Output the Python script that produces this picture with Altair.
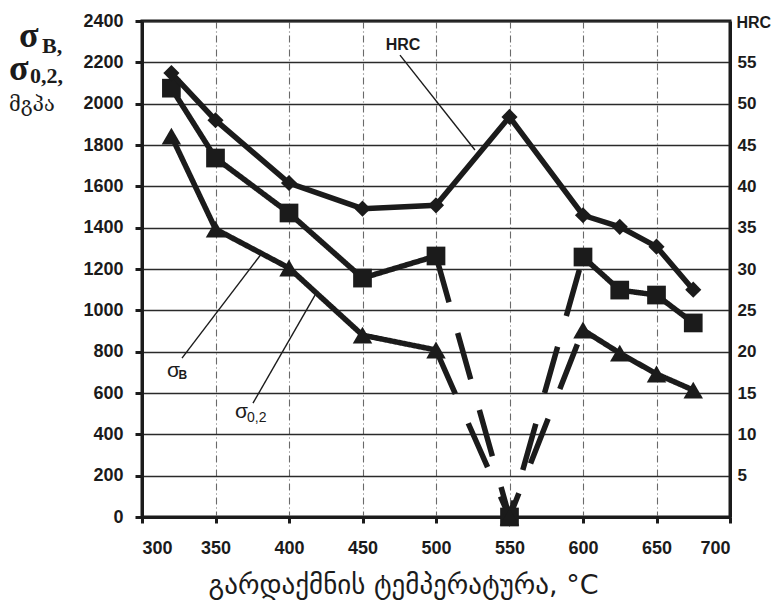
import altair as alt
import pandas as pd

# ---- data ----
temps = [320, 350, 400, 450, 500, 550, 600, 625, 650, 675]
hrc = [53.7, 48.0, 40.4, 37.3, 37.7, 48.4, 36.5, 35.1, 32.7, 27.5]
sigma_b = [2075, 1737, 1471, 1156, 1263, 0, 1258, 1098, 1074, 939]
sigma_02 = [1843, 1393, 1205, 880, 808, 0, 905, 793, 692, 614]

x_ticks = [300, 350, 400, 450, 500, 550, 600, 650, 700]
y_ticks = [0, 200, 400, 600, 800, 1000, 1200, 1400, 1600, 1800, 2000, 2200, 2400]
hrc_ticks = [5, 10, 15, 20, 25, 30, 35, 40, 45, 50, 55]

# annotation anchors (data coordinates)
label_names = ["HRC", "σB", "σ0,2"]
leader_t = [475.5, 327.2, 375.5]
leader_v = [2235, 769, 551]
leader_t2 = [526.5, 381.6, 417.7]
leader_v2 = [1776, 1277, 1074]

INK = "#1b1b1b"
SANS = "Liberation Sans"


def seg_rows(name, vals):
    rows = []
    for t, v in zip(temps, vals):
        if t <= 500:
            rows.append(dict(t=t, v=v, seg=name + "1", style="solid"))
        if 500 <= t <= 600:
            rows.append(dict(t=t, v=v, seg=name + "2", style="dashed"))
        if t >= 600:
            rows.append(dict(t=t, v=v, seg=name + "3", style="solid"))
    return rows


sig_lines = pd.DataFrame(seg_rows("b", sigma_b) + seg_rows("p", sigma_02))
pts_b = pd.DataFrame({"t": temps, "v": sigma_b})
pts_p = pd.DataFrame({"t": temps, "v": sigma_02})
hrc_df = pd.DataFrame({"t": temps, "hrc": hrc})
leaders = pd.DataFrame({"name": label_names, "t": leader_t, "v": leader_v,
                        "t2": leader_t2, "v2": leader_v2})

x_scale = alt.Scale(domain=[300, 700], nice=False, zero=False)
x_axis = alt.Axis(values=x_ticks, format="d", grid=True, gridDash=[7, 3, 1, 3], gridColor="#6a6a6a",
                  gridWidth=1.1, domainColor=INK, domainWidth=3, tickColor=INK, tickWidth=3,
                  tickSize=6, labelFont=SANS, labelFontSize=18, labelFontWeight="bold",
                  labelColor=INK, labelPadding=16,
                  title="გარდაქმნის ტემპერატურა, °C", titleFont="DejaVu Sans",
                  titleFontSize=27, titleFontWeight="normal", titleColor=INK,
                  titleX=261, titleY=76, titleBaseline="alphabetic")


def X(field):
    return alt.X(field, type="quantitative", scale=x_scale, axis=x_axis)


y_scale = alt.Scale(domain=[0, 2400], nice=False)
y_axis = alt.Axis(values=y_ticks, format="d", grid=True, gridColor="#2a2a2a", gridWidth=1.3,
                  domainColor=INK, domainWidth=3, tickColor=INK, tickWidth=3, tickSize=7,
                  labelFont=SANS, labelFontSize=18, labelFontWeight="bold", labelColor=INK,
                  labelPadding=12, title="")


def Y(field):
    return alt.Y(field, type="quantitative", scale=y_scale, axis=y_axis)


dash_scale = alt.Scale(domain=["solid", "dashed"], range=[[1, 0], [48, 32]])

sig_line_layer = alt.Chart(sig_lines).mark_line(color=INK, strokeWidth=5.5, strokeCap="butt").encode(
    x=X("t"), y=Y("v"), detail="seg:N", order="t:Q",
    strokeDash=alt.StrokeDash("style:N", scale=dash_scale, legend=None))

sq_layer = alt.Chart(pts_b).mark_point(shape="square", filled=True, size=350, color=INK, opacity=1).encode(
    x=X("t"), y=Y("v"))
tri_layer = alt.Chart(pts_p).mark_point(shape="triangle-up", filled=True, size=380, color=INK, opacity=1).encode(
    x=X("t"), y=Y("v"))

leader_layer = alt.Chart(leaders).mark_rule(color=INK, strokeWidth=1.4).encode(
    x=X("t"), y=Y("v"), x2="t2:Q", y2="v2:Q")

hrc_text = alt.Chart(pd.DataFrame({"t": [477.6], "v": [2283], "txt": ["HRC"]})).mark_text(
    font=SANS, fontSize=16, fontWeight="bold", color=INK, align="center", baseline="middle").encode(
    x=X("t"), y=Y("v"), text="txt:N")

sig_b_main = alt.Chart(pd.DataFrame({"t": [317.0], "v": [677], "txt": ["σ"]})).mark_text(
    font=SANS, fontSize=21, color=INK, align="left", baseline="alphabetic").encode(
    x=X("t"), y=Y("v"), text="txt:N")
sig_b_sub = alt.Chart(pd.DataFrame({"t": [324.8], "v": [666], "txt": ["B"]})).mark_text(
    font=SANS, fontSize=12, fontWeight="bold", color=INK, align="left", baseline="alphabetic").encode(
    x=X("t"), y=Y("v"), text="txt:N")
sig_p_main = alt.Chart(pd.DataFrame({"t": [363.3], "v": [479], "txt": ["σ"]})).mark_text(
    font=SANS, fontSize=21, color=INK, align="left", baseline="alphabetic").encode(
    x=X("t"), y=Y("v"), text="txt:N")
sig_p_sub = alt.Chart(pd.DataFrame({"t": [371.4], "v": [460], "txt": ["0,2"]})).mark_text(
    font=SANS, fontSize=14, color=INK, align="left", baseline="alphabetic").encode(
    x=X("t"), y=Y("v"), text="txt:N")

# left axis title pieces (placed in pixels, outside the plot area)
def title_piece(txt, px, py, size, weight="bold", font="Liberation Serif"):
    return alt.Chart(pd.DataFrame({"txt": [txt]})).mark_text(
        font=font, fontSize=size, fontWeight=weight, color=INK, align="left",
        baseline="alphabetic").encode(x=alt.value(px), y=alt.value(py), text="txt:N")

left_title = [
    title_piece("σ", -123, 26, 36),
    title_piece("B,", -100, 32, 22),
    title_piece("σ", -133, 59, 36),
    title_piece("0,2,", -112, 62, 22),
    title_piece("მგპა", -133, 90, 20, weight="normal", font="DejaVu Serif"),
]

left = alt.layer(sig_line_layer, sq_layer, tri_layer, leader_layer, hrc_text,
                 sig_b_main, sig_b_sub, sig_p_main, sig_p_sub, *left_title)

hrc_scale = alt.Scale(domain=[0, 60], nice=False)
hrc_axis = alt.Axis(orient="right", values=hrc_ticks, grid=False, domainColor=INK, domainWidth=3,
                    ticks=False, labelFont=SANS, labelFontSize=17, labelFontWeight="bold",
                    labelColor=INK, labelPadding=7, labelAlign="left",
                    title="HRC", titleFont=SANS, titleFontSize=16, titleFontWeight="bold",
                    titleColor=INK, titleAngle=0, titleAlign="left", titleBaseline="alphabetic",
                    titleX=6, titleY=6)
hrc_y = alt.Y("hrc:Q", scale=hrc_scale, axis=hrc_axis)

hrc_line = alt.Chart(hrc_df).mark_line(color=INK, strokeWidth=5.5).encode(x=X("t"), y=hrc_y, order="t:Q")
hrc_pts = alt.Chart(hrc_df).mark_point(shape="diamond", filled=True, size=260, color=INK, opacity=1).encode(
    x=X("t"), y=hrc_y)
right = alt.layer(hrc_line, hrc_pts)

chart = alt.layer(left, right).resolve_scale(y="independent").properties(
    width=588, height=496,
    autosize=alt.AutoSizeParams(type="none"),
    padding={"left": 142, "top": 21, "right": 52, "bottom": 97},
    background="white",
).configure_view(stroke=INK, strokeWidth=3)

chart.save("out.html", embed_options={"renderer": "svg", "actions": False})
